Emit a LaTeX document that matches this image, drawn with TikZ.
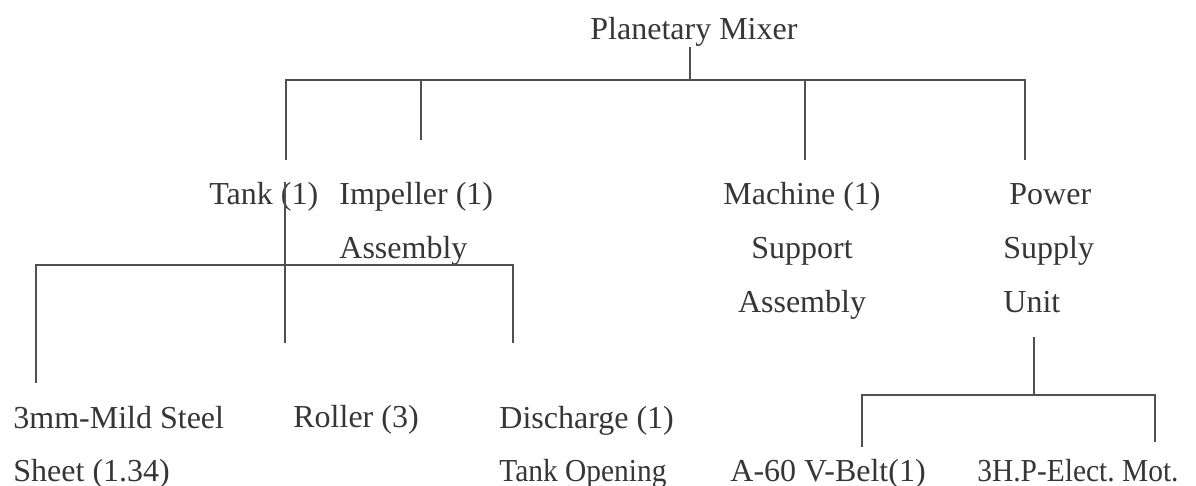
\documentclass[tikz,border=0pt]{standalone}
\usepackage{fontspec}
\setmainfont{Liberation Serif}
\usetikzlibrary{positioning}
\definecolor{tinta}{HTML}{363636}
\definecolor{linea}{HTML}{505050}
\newcommand{\narrow}{\addfontfeatures{FakeStretch=0.92}}

\begin{document}
\begin{tikzpicture}[x=0.5pt,y=-0.5pt,font=\fontsize{16}{27}\selectfont,
        t/.style={inner sep=0pt,anchor=base west,text=tinta},
        ln/.style={draw=linea,line width=1.2pt}]
        \fill[white] (0,0) rectangle (1196,486);
        \useasboundingbox (0,0) rectangle (1196,486);
        % parts (multi-line nodes sit on their last line)
        \node[t] (mixer) at (590,40) {Planetary Mixer};
        \node[t] (tank) at (209,205) {Tank (1)};
        \node[t,align=left] (imp) at (339,259) {Impeller (1)\\Assembly};
        \node[t,align=center,anchor=base] (mach) at (802,313) {Machine (1)\\Support\\Assembly};
        \node[t,align=left] (power) at (1003,313) {\hspace{3pt}Power\\Supply\\Unit};
        \node[t,align=left] (steel) at (13,482) {3mm-Mild Steel\\Sheet (1.34)};
        \node[t] (roller) at (293,428) {Roller (3)};
        \node[t,align=left] (disch) at (499,482) {Discharge (1)\\{\narrow Tank Opening}};
        \node[t] (belt) at (730,482) {A-60 V-Belt(1)};
        \node[t] (motor) at (977,482) {\narrow 3H.P-Elect.\ Mot.};
        % junctions
        \coordinate (j0) at (690,80);
        \coordinate (j1) at (285,265);
        \coordinate (j2) at (1034,395);
        \coordinate (tankend) at (285,343);
        \coordinate (unitend) at (1034,337);
        % first level
        \draw[ln] (mixer.south -| j0) -- (j0);
        \draw[ln] (286,160) |- (1025,80) -- (1025,160);
        \draw[ln] (421,80) -- (421,140);
        \draw[ln] (805,80) -- (805,160);
        % tank
        \draw[ln] (tank.north -| j1) -- (tankend);
        \draw[ln] (36,383) |- (513,265) -- (513,343);
        % power supply unit
        \draw[ln] (unitend) -- (j2);
        \draw[ln] (862,447) |- (1155,395) -- (1155,442);
      \end{tikzpicture}
\end{document}
